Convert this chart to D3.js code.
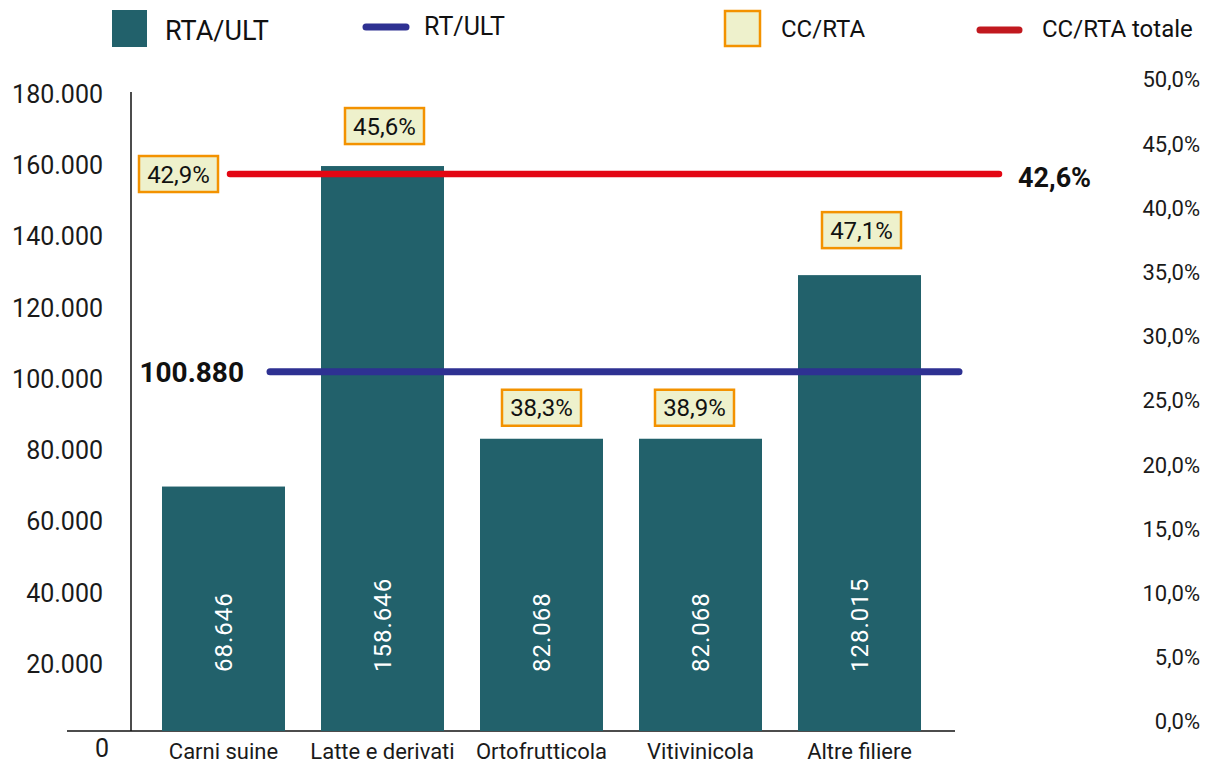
<!DOCTYPE html>
<html lang="it">
<head>
<meta charset="utf-8">
<title>RTA/ULT e CC/RTA per filiera</title>
<script src="https://cdn.jsdelivr.net/npm/d3@7/dist/d3.min.js"></script>
<style>
  html, body { margin: 0; padding: 0; background: #ffffff; }
  svg { display: block; font-family: Roboto, "Noto Sans", sans-serif; }
</style>
</head>
<body>
<svg id="chart" width="1208" height="764"></svg>
<script>
// ---- Dati ----
const categories = ["Carni suine", "Latte e derivati", "Ortofrutticola", "Vitivinicola", "Altre filiere"];
const rtaUlt = [68646, 158646, 82068, 82068, 128015];      // RTA/ULT (barre)
const ccRta = [0.429, 0.456, 0.383, 0.389, 0.471];          // CC/RTA (etichette)
const rtUlt = 100880;                                       // RT/ULT (linea blu)
const ccRtaTotale = 0.426;                                  // CC/RTA totale (linea rossa)
const leftTicks = [0, 20000, 40000, 60000, 80000, 100000, 120000, 140000, 160000, 180000];
const rightTicks = [0, 0.05, 0.10, 0.15, 0.20, 0.25, 0.30, 0.35, 0.40, 0.45, 0.50];
const legendLabels = ["RTA/ULT", "RT/ULT", "CC/RTA", "CC/RTA totale"];

// ---- Stile ----
const C_BAR = "#22616b";
const C_BLUE = "#2e3192";
const C_RED = "#e30613";
const C_RED_LEG = "#c1191f";
const C_BOX_FILL = "#eef1cc";
const C_BOX_STROKE = "#f39200";

const it = d3.formatLocale({ decimal: ",", thousands: ".", grouping: [3], currency: ["€", ""] });
const fmtInt = it.format(",d");
const fmtPct = it.format(".1%");

const svg = d3.select("#chart");

// ---- Scale ----
const x = d3.scaleBand().domain(categories).range([126, 957]).paddingInner(0.2264).paddingOuter(0.2264);
const y = d3.scaleLinear().domain([0, 180000]).range([731, 90]);
const yR = d3.scaleLinear().domain([0, 0.5]).range([721, 79]);

// ---- Asse sinistro ----
const axisX = 131;
const gLeft = svg.append("g").attr("transform", `translate(${axisX},0)`)
  .call(d3.axisLeft(y).tickValues(leftTicks).tickSize(0).tickPadding(28).tickFormat(fmtInt));
gLeft.select(".domain").remove();
gLeft.selectAll("text")
  .attr("font-size", 25).attr("fill", "#1a1a1a").attr("font-family", "Roboto")
  .attr("dy", d => d === 0 ? "1.0em" : "0.5em")
  .attr("dx", d => d === 0 ? 6 : 0);
svg.append("line")
  .attr("x1", axisX).attr("x2", axisX)
  .attr("y1", y(180000) + 2).attr("y2", y(0))
  .attr("stroke", "#111").attr("stroke-width", 1.5);

// linea di base
svg.append("line")
  .attr("x1", 67).attr("x2", x.range()[1] - 2)
  .attr("y1", y(0)).attr("y2", y(0))
  .attr("stroke", "#111").attr("stroke-width", 1.5);

// ---- Asse destro ----
const gRight = svg.append("g").attr("transform", "translate(1200,0)")
  .call(d3.axisLeft(yR).tickValues(rightTicks).tickSize(0).tickPadding(0).tickFormat(fmtPct));
gRight.select(".domain").remove();
gRight.selectAll("text")
  .attr("font-size", 22).attr("fill", "#1a1a1a").attr("font-family", "Roboto")
  .attr("dy", "0.36em");

// ---- Barre ----
svg.append("g").selectAll("rect")
  .data(categories)
  .join("rect")
  .attr("x", d => x(d))
  .attr("width", x.bandwidth())
  .attr("y", (d, i) => y(rtaUlt[i]))
  .attr("height", (d, i) => y(0) - y(rtaUlt[i]))
  .attr("fill", C_BAR);

// valori nelle barre (verticali)
svg.append("g").selectAll("text")
  .data(categories)
  .join("text")
  .attr("transform", d => `translate(${x(d) + x.bandwidth() / 2},${y(0) - 59}) rotate(-90)`)
  .attr("text-anchor", "start")
  .attr("dy", "0.36em")
  .attr("font-size", 24)
  .attr("letter-spacing", 1)
  .attr("fill", "#ffffff")
  .text((d, i) => fmtInt(rtaUlt[i]));

// etichette categorie
svg.append("g").selectAll("text")
  .data(categories)
  .join("text")
  .attr("x", d => x(d) + x.bandwidth() / 2)
  .attr("y", y(0) + 20)
  .attr("dy", "0.36em")
  .attr("text-anchor", "middle")
  .attr("font-size", 22)
  .attr("fill", "#1a1a1a")
  .text(d => d);

// ---- Linea RT/ULT ----
const blueY = y(rtUlt);
svg.append("line")
  .attr("x1", 270).attr("x2", 959)
  .attr("y1", blueY).attr("y2", blueY)
  .attr("stroke", C_BLUE).attr("stroke-width", 7).attr("stroke-linecap", "round");
svg.append("text")
  .attr("x", 244).attr("y", blueY)
  .attr("dy", "0.36em")
  .attr("text-anchor", "end")
  .attr("font-size", 28).attr("font-weight", 700).attr("fill", "#111")
  .text(fmtInt(rtUlt));

// ---- Linea CC/RTA totale ----
const redY = yR(ccRtaTotale);
const redX1 = 230, redX2 = 999;
svg.append("line")
  .attr("x1", redX1).attr("x2", redX2)
  .attr("y1", redY).attr("y2", redY)
  .attr("stroke", C_RED).attr("stroke-width", 6.5).attr("stroke-linecap", "round");
svg.append("text")
  .attr("x", 1018).attr("y", redY + 3)
  .attr("dy", "0.36em")
  .attr("text-anchor", "start")
  .attr("font-size", 27).attr("font-weight", 700).attr("fill", "#111")
  .text(fmtPct(ccRtaTotale));

// ---- Etichette CC/RTA (riquadri) ----
// spostamento dei riquadri rispetto alla cima di ciascuna barra
const boxNudge = [null, [2, -40], [0, -31], [-6, -31], [2, -45]];
const boxW = 79, boxH = 36;
const boxes = svg.append("g").selectAll("g")
  .data(categories)
  .join("g")
  .attr("transform", (d, i) => {
    let cx, cy;
    if (i === 0) {
      // il primo riquadro è accostato all'inizio della linea totale
      cx = redX1 - 3 - 9 - boxW / 2;
      cy = redY;
    } else {
      cx = x(d) + x.bandwidth() / 2 + boxNudge[i][0];
      cy = y(rtaUlt[i]) + boxNudge[i][1];
    }
    return `translate(${cx},${cy})`;
  });
boxes.append("rect")
  .attr("x", -boxW / 2).attr("y", -boxH / 2)
  .attr("width", boxW).attr("height", boxH)
  .attr("fill", C_BOX_FILL).attr("stroke", C_BOX_STROKE).attr("stroke-width", 2.5);
boxes.append("text")
  .attr("text-anchor", "middle")
  .attr("dy", "0.36em")
  .attr("font-size", 24)
  .attr("fill", "#111")
  .text((d, i) => fmtPct(ccRta[i]));

// ---- Legenda ----
const leg = svg.append("g");
leg.append("rect").attr("x", 112).attr("y", 10).attr("width", 35).attr("height", 37).attr("fill", C_BAR);
leg.append("text").attr("x", 165).attr("y", 30).attr("dy", "0.36em")
  .attr("font-size", 27).attr("fill", "#111").text(legendLabels[0]);

leg.append("line").attr("x1", 366).attr("x2", 406).attr("y1", 27).attr("y2", 27)
  .attr("stroke", C_BLUE).attr("stroke-width", 7).attr("stroke-linecap", "round");
leg.append("text").attr("x", 424).attr("y", 26).attr("dy", "0.36em")
  .attr("font-size", 25).attr("fill", "#111").text(legendLabels[1]);

leg.append("rect").attr("x", 725).attr("y", 11).attr("width", 35).attr("height", 35)
  .attr("fill", C_BOX_FILL).attr("stroke", C_BOX_STROKE).attr("stroke-width", 2.5);
leg.append("text").attr("x", 781).attr("y", 28).attr("dy", "0.36em")
  .attr("font-size", 24).attr("fill", "#111").text(legendLabels[2]);

leg.append("line").attr("x1", 980).attr("x2", 1019).attr("y1", 30).attr("y2", 30)
  .attr("stroke", C_RED_LEG).attr("stroke-width", 7).attr("stroke-linecap", "round");
leg.append("text").attr("x", 1042).attr("y", 28).attr("dy", "0.36em")
  .attr("font-size", 24).attr("fill", "#111").text(legendLabels[3]);
</script>
</body>
</html>
